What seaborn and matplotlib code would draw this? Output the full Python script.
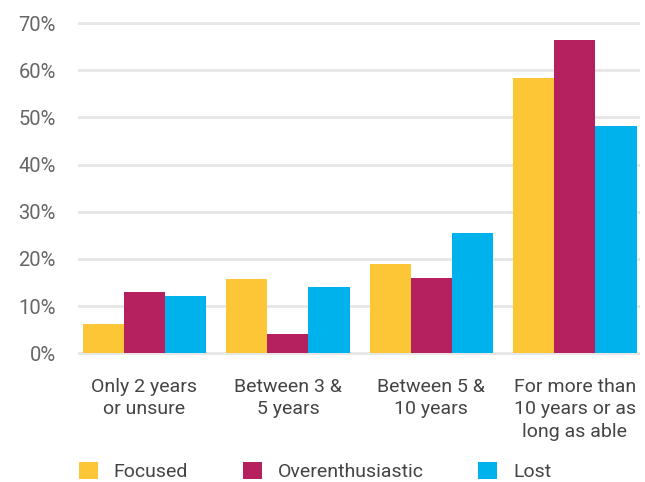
import pandas as pd
import matplotlib.pyplot as plt
import seaborn as sns
from matplotlib.patches import Patch

# categories / series (percent)
categories = ['Only 2 years\nor unsure', 'Between 3 &\n5 years',
              'Between 5 &\n10 years', 'For more than\n10 years or as\nlong as able']
groups = ['Focused', 'Overenthusiastic', 'Lost']
focused = [6.2, 15.7, 18.9, 58.3]
overenthusiastic = [13.0, 4.1, 16.0, 66.4]
lost = [12.1, 14.0, 25.5, 48.2]
yticks = [0, 10, 20, 30, 40, 50, 60, 70]

colors = ['#FDC637', '#B5205F', '#00B2EC']

df = pd.DataFrame({
    'category': categories * 3,
    'group': [g for g in groups for _ in categories],
    'value': focused + overenthusiastic + lost,
})

sns.set_style('white')
plt.rcParams['font.family'] = ['Roboto', 'DejaVu Sans']

fig = plt.figure(figsize=(6.45, 4.82), dpi=100)
ax = fig.add_axes([0.121, 0.262, 0.871, 0.695])

sns.barplot(data=df, x='category', y='value', hue='group', order=categories,
            hue_order=groups, palette=colors, width=0.86, gap=0,
            saturation=1, linewidth=0, ax=ax, legend=False, zorder=3)

ax.set_ylim(-0.5, 70.5)
ax.set_xlim(-0.463, 3.453)
ax.set_yticks(yticks)
ax.set_yticklabels([f'{t}%' for t in yticks])
ax.grid(axis='y', color='#e6e6e6', linewidth=2, zorder=0)
ax.grid(axis='x', visible=False)
ax.set_axisbelow(True)
for s in ax.spines.values():
    s.set_visible(False)
ax.set_xlabel('')
ax.set_ylabel('')
ax.tick_params(axis='y', length=0, pad=16, labelsize=14.5, labelcolor='#666666')
ax.tick_params(axis='x', length=0, pad=16, labelsize=14, labelcolor='#444444')
for lbl in ax.get_xticklabels():
    lbl.set_linespacing(1.32)
    lbl.set_ha('center')

handles = [Patch(facecolor=c, edgecolor='none', label=g) for g, c in zip(groups, colors)]
fig.legend(handles=handles, loc='lower left', bbox_to_anchor=(0.095, -0.035),
           ncol=3, frameon=False, handlelength=1.0, handleheight=1.0,
           handletextpad=0.8, columnspacing=2.8, fontsize=14,
           labelcolor='#444444')

plt.savefig('out.png', dpi=100)
